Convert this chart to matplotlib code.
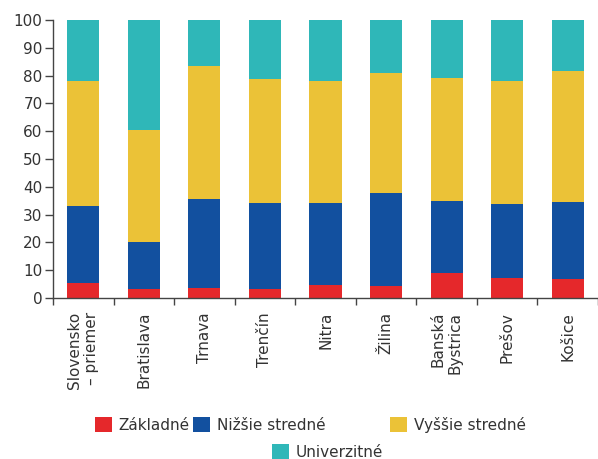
import numpy as np
import matplotlib.pyplot as plt

regions = ['Slovensko\n– priemer', 'Bratislava', 'Trnava', 'Trenčín', 'Nitra',
           'Žilina', 'Banská\nBystrica', 'Prešov', 'Košice']
zakladne = [5.5, 3.4, 3.7, 3.4, 4.8, 4.3, 9.1, 7.3, 7.0]
nizsie = [27.5, 16.9, 32.0, 30.6, 29.2, 33.4, 25.9, 26.4, 27.7]
vyssie = [45.0, 40.1, 47.7, 44.7, 44.0, 43.3, 44.2, 44.3, 47.0]
univerzitne = [22.0, 39.6, 16.6, 21.3, 22.0, 19.0, 20.8, 22.0, 18.3]
series_names = ['Základné', 'Nižšie stredné', 'Vyššie stredné', 'Univerzitné']
yticks = np.arange(0, 101, 10)

colors = ['#E5282B', '#12509F', '#EBC237', '#2FB7B8']
txt = '#333333'

plt.rcParams['font.family'] = ['DejaVu Sans']
fig = plt.figure(figsize=(5.98, 4.59), dpi=100)
ax = fig.add_axes([53/598, 1 - 298/459, 1 - 53/598, 278/459])

x = np.arange(len(regions))
bottom = np.zeros(len(regions))
bars = []
for vals, col in zip([zakladne, nizsie, vyssie, univerzitne], colors):
    b = ax.bar(x, vals, width=0.53, bottom=bottom, color=col, linewidth=0)
    bars.append(b)
    bottom += np.array(vals)

ax.set_xlim(-0.5, len(regions) - 0.5)
ax.set_ylim(0, 100)
ax.set_yticks(yticks)
ax.tick_params(axis='y', labelsize=11, labelcolor=txt, color='#444444',
               length=5.5, width=1, pad=2)
ax.set_xticks(x)
ax.set_xticklabels(regions, rotation=90, fontsize=11, color=txt,
                   ha='center', va='top', multialignment='right')
ax.set_xticks(np.arange(-0.5, len(regions)), minor=True)
ax.tick_params(axis='x', which='major', length=0, pad=10)
ax.tick_params(axis='x', which='minor', length=5, width=1, color='#444444')

for s in ['top', 'right']:
    ax.spines[s].set_visible(False)
for s in ['left', 'bottom']:
    ax.spines[s].set_color('#444444')
    ax.spines[s].set_linewidth(1)

# legend entries placed one by one
legend_pos = [(95, 425), (193, 425), (390, 425), (272, 452)]
for b, name, (lx, ly) in zip(bars, series_names, legend_pos):
    fig.legend([b], [name], loc='center left',
               bbox_to_anchor=(lx/598, 1 - ly/459), frameon=False,
               fontsize=11, handlelength=1.1, handleheight=1.1,
               handletextpad=0.45, borderpad=0, borderaxespad=0,
               labelcolor=txt)

fig.savefig('out.png', dpi=100)
